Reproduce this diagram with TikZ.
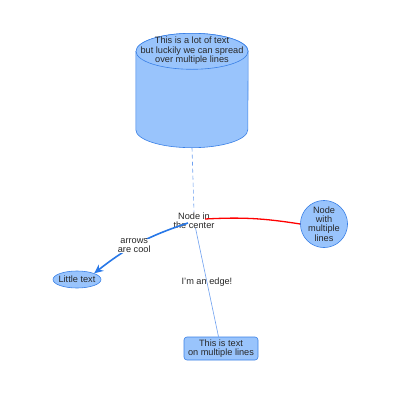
\documentclass[tikz,border=0pt]{standalone}
\usepackage{fontspec}
\setmainfont{Liberation Sans}
\usetikzlibrary{shapes.geometric,arrows.meta}
\definecolor{nodefill}{RGB}{153,196,252}
\definecolor{nodeline}{RGB}{58,128,230}
\definecolor{thinblue}{RGB}{110,160,240}
\definecolor{arrowblue}{RGB}{40,120,232}
\definecolor{textgray}{RGB}{40,40,40}
\begin{document}
\begin{tikzpicture}[x=1pt, y=-1pt,
			every node/.style = {font=\fontsize{9.2}{9.4}\selectfont, text=textgray, align=center, inner sep=1pt},
			bubble/.style = {draw=nodeline, fill=nodefill, line width=0.6pt},
			rim/.style = {x radius=56pt, y radius=18pt},
			thinedge/.style = {draw=thinblue, line width=0.6pt}]
	\useasboundingbox[fill=white] (0,0) rectangle (400,400);
	\node[minimum width=112pt, minimum height=114pt, inner sep=0pt] (tank) at (192,90.5) {};
	\draw[bubble] ([yshift=-18pt]tank.north west) -- ([yshift=18pt]tank.south west)
		arc[start angle=180, end angle=360, rim] -- ([yshift=-18pt]tank.north east)
		arc[start angle=0, end angle=180, rim] -- cycle;
	\draw[bubble] ([yshift=-18pt]tank.north) ellipse[rim];
	\node (tanktext) at (192,51) {This is a lot of text\\but luckily we can spread\\over multiple lines};
	\node (hub) at (194,221) {Node in\\the center};
	\node[bubble, circle, minimum size=44pt, inner sep=0pt] (round) at (324,224) {Node\\with\\multiple\\lines};
	\node[bubble, ellipse, minimum width=48pt, minimum height=17pt, inner xsep=-4pt, inner ysep=0pt] (little) at (77,279.5) {Little text};
	\node[bubble, rounded corners=3pt, minimum width=74pt, minimum height=23pt] (box) at (221,348.5) {This is text\\on multiple lines};
	\draw[thinedge, dash pattern=on 4pt off 3pt] (tank.south) -- (hub.north);
	\draw[thinedge] ([shift={(1.5,7)}]hub.center) -- node[pos=0.5] {I'm an edge!} (box);
	\draw[red, line width=1.3pt] ([shift={(11,-2)}]hub.center) to[bend left=6] (round.west);
	\draw[arrowblue, line width=1.6pt, -{Stealth[length=9pt, width=8pt]}] ([shift={(-6,2)}]hub.center) to[bend right=10] node[pos=0.55, fill=white, inner sep=0pt] {arrows\\are cool} (little.north east);
\end{tikzpicture}
\end{document}
